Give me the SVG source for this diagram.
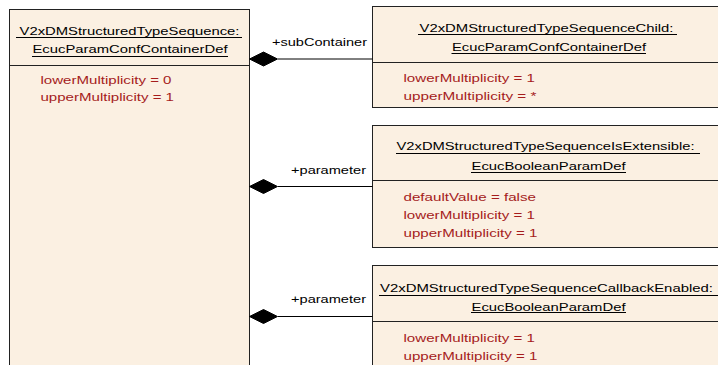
<svg xmlns="http://www.w3.org/2000/svg" width="718" height="365" viewBox="0 0 718 365">
<style>
.box{fill:#FBF0E2;stroke:#222;stroke-width:1}
.sep{stroke:#222;stroke-width:1}
.ul{stroke:#000;stroke-width:1}
.t{font-family:"Liberation Sans",Arial,sans-serif;font-size:11px;fill:#000}
.c{text-anchor:middle}
.a{font-family:"Liberation Sans",Arial,sans-serif;font-size:11px;fill:#A51C1C}
.r{font-family:"Liberation Sans",Arial,sans-serif;font-size:11px;fill:#000;text-anchor:end}
.con{stroke:#000;stroke-width:1;fill:none}
.dia{fill:#000;stroke:#000;stroke-width:1}
</style>
<rect width="718" height="365" fill="#fff"/>
<g id="parent">
<rect class="box" x="9.5" y="9.5" width="240" height="370"/>
<line class="sep" x1="9.5" y1="65.5" x2="249.5" y2="65.5"/>
<text class="t c" x="129.5" y="34.5" textLength="220" lengthAdjust="spacingAndGlyphs">V2xDMStructuredTypeSequence:</text>
<line class="ul" x1="16" y1="37.5" x2="242" y2="37.5"/>
<text class="t c" x="130" y="52.5" textLength="195" lengthAdjust="spacingAndGlyphs">EcucParamConfContainerDef</text>
<line class="ul" x1="32" y1="56.5" x2="228" y2="56.5"/>
<text class="a" x="40.5" y="83.5" textLength="131" lengthAdjust="spacingAndGlyphs">lowerMultiplicity = 0</text>
<text class="a" x="40.5" y="101" textLength="133.5" lengthAdjust="spacingAndGlyphs">upperMultiplicity = 1</text>
</g>
<g id="child">
<rect class="box" x="372.5" y="6.5" width="350" height="101"/>
<line class="sep" x1="372.5" y1="62.5" x2="722" y2="62.5"/>
<text class="t c" x="546.5" y="31.5" textLength="254" lengthAdjust="spacingAndGlyphs">V2xDMStructuredTypeSequenceChild:</text>
<line class="ul" x1="418" y1="34.5" x2="677" y2="34.5"/>
<text class="t c" x="549" y="50.5" textLength="194" lengthAdjust="spacingAndGlyphs">EcucParamConfContainerDef</text>
<line class="ul" x1="451.5" y1="53.5" x2="646" y2="53.5"/>
<text class="a" x="403.5" y="81.5" textLength="131.5" lengthAdjust="spacingAndGlyphs">lowerMultiplicity = 1</text>
<text class="a" x="403.5" y="99.5" textLength="133" lengthAdjust="spacingAndGlyphs">upperMultiplicity = *</text>
</g>
<g id="isExtensible">
<rect class="box" x="372.5" y="125.5" width="350" height="122"/>
<line class="sep" x1="372.5" y1="180.5" x2="722" y2="180.5"/>
<text class="t c" x="545.5" y="149.5" textLength="298" lengthAdjust="spacingAndGlyphs">V2xDMStructuredTypeSequenceIsExtensible:</text>
<line class="ul" x1="396" y1="153.5" x2="700" y2="153.5"/>
<text class="t c" x="548.5" y="170" textLength="154" lengthAdjust="spacingAndGlyphs">EcucBooleanParamDef</text>
<line class="ul" x1="471" y1="172.5" x2="626" y2="172.5"/>
<text class="a" x="403.5" y="200.5" textLength="132.5" lengthAdjust="spacingAndGlyphs">defaultValue = false</text>
<text class="a" x="403.5" y="218.5" textLength="131.5" lengthAdjust="spacingAndGlyphs">lowerMultiplicity = 1</text>
<text class="a" x="403.5" y="236.5" textLength="134" lengthAdjust="spacingAndGlyphs">upperMultiplicity = 1</text>
</g>
<g id="callbackEnabled">
<rect class="box" x="372.5" y="265.5" width="350" height="120"/>
<line class="sep" x1="372.5" y1="321.5" x2="722" y2="321.5"/>
<text class="t c" x="546.5" y="292" textLength="333" lengthAdjust="spacingAndGlyphs">V2xDMStructuredTypeSequenceCallbackEnabled:</text>
<line class="ul" x1="379" y1="295.5" x2="718" y2="295.5"/>
<text class="t c" x="548.5" y="310.5" textLength="154" lengthAdjust="spacingAndGlyphs">EcucBooleanParamDef</text>
<line class="ul" x1="471" y1="312.5" x2="626" y2="312.5"/>
<text class="a" x="403.5" y="341.5" textLength="131.5" lengthAdjust="spacingAndGlyphs">lowerMultiplicity = 1</text>
<text class="a" x="403.5" y="360" textLength="134" lengthAdjust="spacingAndGlyphs">upperMultiplicity = 1</text>
</g>
<g id="connectors">
<line class="con" x1="278" y1="59" x2="372.5" y2="59"/>
<polygon class="dia" points="249.5,59 263.5,52 277.5,59 263.5,66"/>
<text class="r" x="367" y="46" textLength="95" lengthAdjust="spacingAndGlyphs">+subContainer</text>
<line class="con" x1="278" y1="186.5" x2="372.5" y2="186.5"/>
<polygon class="dia" points="249.5,186.5 263.5,179.5 277.5,186.5 263.5,193.5"/>
<text class="r" x="366" y="174" textLength="75" lengthAdjust="spacingAndGlyphs">+parameter</text>
<line class="con" x1="278" y1="316.5" x2="372.5" y2="316.5"/>
<polygon class="dia" points="249.5,316.5 263.5,309.5 277.5,316.5 263.5,323.5"/>
<text class="r" x="366" y="303" textLength="75" lengthAdjust="spacingAndGlyphs">+parameter</text>
</g>
</svg>
